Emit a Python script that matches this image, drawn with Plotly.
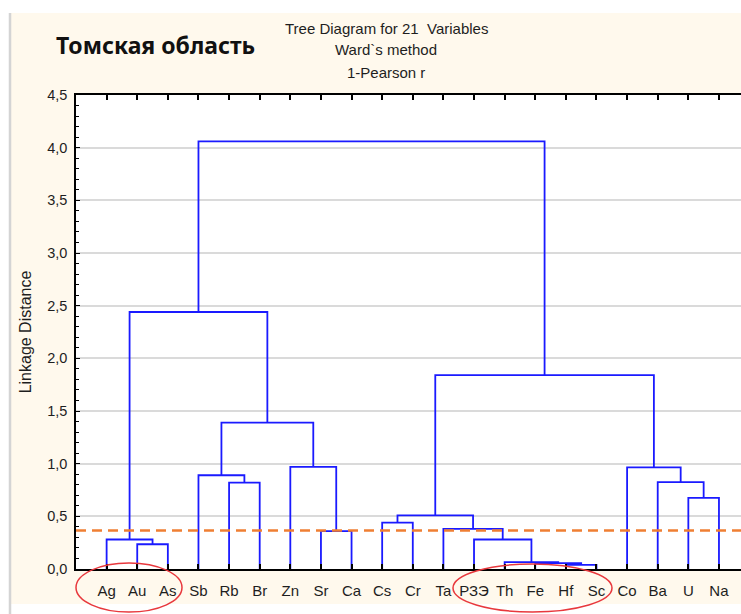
import plotly.graph_objects as go

# Leaf order along the x axis
leaves = ["Ag", "Au", "As", "Sb", "Rb", "Br", "Zn", "Sr", "Ca", "Cs", "Cr",
          "Ta", "РЗЭ", "Th", "Fe", "Hf", "Sc", "Co", "Ba", "U", "Na"]

# Agglomeration steps: (left member, right member, linkage distance)
# members are leaf names or "c<k>" for the cluster formed at step k (1-based)
merge_left = ["Au", "Ag", "Rb", "Sb", "Sr", "Zn", "c4", "c2", "Hf", "Fe",
              "Th", "РЗЭ", "Ta", "Cs", "c14", "U", "Ba", "Co", "c15", "c8"]
merge_right = ["As", "c1", "Br", "c3", "Ca", "c5", "c6", "c7", "Sc", "c9",
               "c10", "c11", "c12", "Cr", "c13", "Na", "c16", "c17", "c18", "c19"]
merge_height = [0.235, 0.28, 0.82, 0.89, 0.36, 0.97, 1.39, 2.44, 0.04, 0.055,
                0.065, 0.28, 0.38, 0.44, 0.51, 0.675, 0.825, 0.965, 1.84, 4.06]

cut_level = 0.365

y_ticks = [0.0, 0.5, 1.0, 1.5, 2.0, 2.5, 3.0, 3.5, 4.0, 4.5]

# ---- build dendrogram segments (x = leaf position, y = distance) ----
pos = {name: i + 1 for i, name in enumerate(leaves)}
hgt = {name: 0.0 for name in leaves}
xs, ys = [], []
for k, (a, b, h) in enumerate(zip(merge_left, merge_right, merge_height), start=1):
    xa, xb = pos[a], pos[b]
    xs += [xa, xa, xb, xb, None]
    ys += [hgt[a], h, h, hgt[b], None]
    pos[f"c{k}"] = (xa + xb) / 2
    hgt[f"c{k}"] = h

X_MAX = 21.72
Y_MAX = 4.5

# plot-area geometry in pixels (used for decorative paper shapes)
W, H = 741, 614
ML, MR, MT, MB = 76, 0, 95, 45
PW, PH = W - ML - MR, H - MT - MB


def px(xp):
    return (xp - ML) / PW


def py(yp):
    return (H - MB - yp) / PH


fig = go.Figure()
fig.add_trace(go.Scatter(
    x=xs, y=ys, mode="lines",
    line=dict(color="#1a1aff", width=1.8),
    hoverinfo="skip", showlegend=False,
))

X_FONT = dict(family="Liberation Sans, Arial, sans-serif", size=15, color="#1e1e1e")
Y_FONT = dict(family="Liberation Sans, Arial, sans-serif", size=14.5, color="#1e1e1e")

shapes = [
    # white strips outside the cream panel
    dict(type="rect", xref="paper", yref="paper", x0=px(0), x1=px(W), y0=py(0), y1=py(13),
         fillcolor="white", line_width=0, layer="below"),
    dict(type="rect", xref="paper", yref="paper", x0=px(0), x1=px(10), y0=py(0), y1=py(H),
         fillcolor="white", line_width=0, layer="below"),
    dict(type="rect", xref="paper", yref="paper", x0=px(0), x1=px(W), y0=py(604), y1=py(H),
         fillcolor="white", line_width=0, layer="below"),
    # grey left edge of the panel
    dict(type="line", xref="paper", yref="paper", x0=px(10), x1=px(10), y0=py(13), y1=py(H),
         line=dict(color="#d4d4d4", width=2.5), layer="below"),
    # cut level
    dict(type="line", xref="paper", yref="y", x0=0, x1=1, y0=cut_level, y1=cut_level,
         line=dict(color="#ef7f33", width=2.5, dash="10px,6px"), layer="above"),
    # highlighted groups
    dict(type="circle", xref="paper", yref="paper", x0=px(76), x1=px(182), y0=py(563), y1=py(612),
         line=dict(color="#e8383d", width=1.5), layer="above"),
    dict(type="circle", xref="paper", yref="paper", x0=px(453), x1=px(612), y0=py(564), y1=py(612),
         line=dict(color="#e8383d", width=1.5), layer="above"),
]

TITLE_FONT = dict(family="Liberation Sans Narrow, Arial Narrow, Liberation Sans, sans-serif",
                  size=15, color="#1e1e1e")
annotations = [
    dict(text="Tree Diagram for 21  Variables", x=px(386), y=py(28), xref="paper", yref="paper",
         showarrow=False, font=TITLE_FONT, xanchor="center", yanchor="middle"),
    dict(text="Ward`s method", x=px(386), y=py(50), xref="paper", yref="paper",
         showarrow=False, font=TITLE_FONT, xanchor="center", yanchor="middle"),
    dict(text="1-Pearson r", x=px(386), y=py(73), xref="paper", yref="paper",
         showarrow=False, font=TITLE_FONT, xanchor="center", yanchor="middle"),
    dict(text="<b>Томская область</b>", x=px(54), y=py(45), xref="paper", yref="paper",
         showarrow=False, xanchor="left", yanchor="middle",
         font=dict(family="Noto Sans, Open Sans, sans-serif", size=23, color="#111111")),
]

fig.update_layout(
    width=W, height=H,
    margin=dict(l=ML, r=MR, t=MT, b=MB, pad=0),
    paper_bgcolor="#fff9ed",
    plot_bgcolor="white",
    separators=",.",
    shapes=shapes,
    annotations=annotations,
    showlegend=False,
)

fig.update_xaxes(
    range=[0, X_MAX],
    tickmode="array", tickvals=list(range(1, len(leaves) + 1)), ticktext=leaves,
    ticks="inside", ticklen=5, tickwidth=1.5, tickcolor="black",
    showline=True, linecolor="black", linewidth=1.5, mirror="ticks",
    showgrid=False, zeroline=False,
    tickfont=X_FONT, ticklabelstandoff=7,
)
fig.update_yaxes(
    range=[0, Y_MAX],
    tickmode="array", tickvals=y_ticks, tickformat=".1f",
    ticks="inside", ticklen=4, tickwidth=1.2, tickcolor="black",
    minor=dict(dtick=0.1, ticks="inside", ticklen=3, tickcolor="black", tickwidth=1, showgrid=False),
    showline=True, linecolor="black", linewidth=1.5, mirror=False,
    showgrid=True, gridcolor="#dadada", gridwidth=1.5, zeroline=False,
    tickfont=Y_FONT, ticklabelstandoff=4,
    title=dict(text="Linkage Distance", font=dict(family="Liberation Sans, Arial, sans-serif",
                                                  size=16, color="#1e1e1e"), standoff=12),
)

fig.write_html("out.html", config={"displayModeBar": False})
